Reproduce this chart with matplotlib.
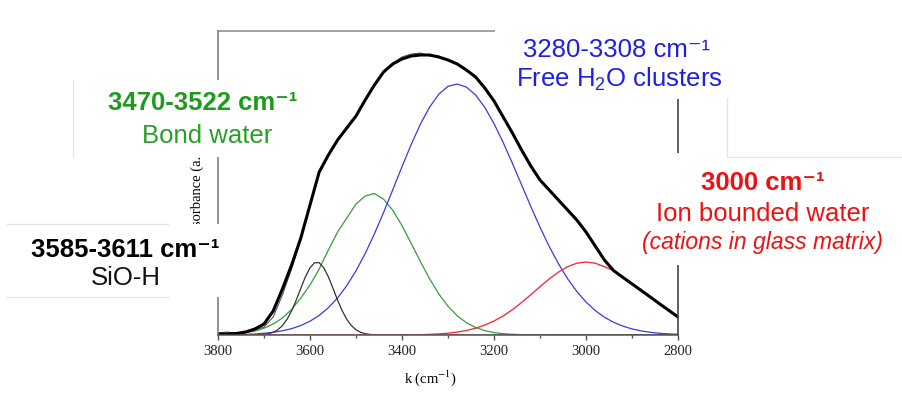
import matplotlib
matplotlib.use('Agg')
import matplotlib.pyplot as plt
from matplotlib.patches import Rectangle
from matplotlib.lines import Line2D

plt.rcParams['font.family'] = ['Liberation Serif', 'DejaVu Serif']
plt.rcParams['mathtext.fontset'] = 'custom'
plt.rcParams['mathtext.rm'] = 'Liberation Sans'
plt.rcParams['mathtext.bf'] = 'Liberation Sans:bold'
plt.rcParams['mathtext.it'] = 'Liberation Sans:italic'

# wavenumbers (cm-1), one sample every 20 cm-1
wavenumber = list(range(3800, 2799, -20))

# absorbance (a.u.)
total = [0.01, 0.01, 0.015, 0.03, 0.06, 0.11, 0.24, 0.46, 0.70, 0.97,
         1.30, 1.63, 1.80, 1.95, 2.07, 2.19, 2.35, 2.50, 2.63, 2.71,
         2.76, 2.79, 2.80, 2.80, 2.78, 2.75, 2.71, 2.65, 2.58, 2.47,
         2.34, 2.18, 2.02, 1.85, 1.69, 1.55, 1.45, 1.35, 1.25, 1.15,
         1.03, 0.89, 0.75, 0.644, 0.577, 0.511, 0.445, 0.379, 0.312, 0.246,
         0.18]
raw = [0.02, 0.03, 0.015, 0.03, 0.05, 0.08, 0.18, 0.40, 0.66, 0.95,
       1.29, 1.63, 1.81, 1.94, 2.08, 2.18, 2.36, 2.49, 2.64, 2.72,
       2.78, 2.81, 2.82, 2.79, 2.79, 2.74, 2.72, 2.64, 2.59, 2.46,
       2.35, 2.17, 2.03, 1.84, 1.70, 1.54, 1.46, 1.34, 1.26, 1.14,
       1.03, 0.89, 0.75, 0.644, 0.577, 0.511, 0.445, 0.379, 0.312, 0.246,
       0.18]
bond = [0.003, 0.006, 0.011, 0.022, 0.039, 0.068, 0.11, 0.17, 0.255, 0.37,
        0.50, 0.66, 0.85, 1.03, 1.17, 1.31, 1.39, 1.415, 1.358, 1.247,
        1.093, 0.916, 0.734, 0.562, 0.411, 0.288, 0.192, 0.123, 0.075, 0.044,
        0.024, 0.013, 0.007, 0.003, 0.002, 0.001, 0, 0, 0, 0,
        0, 0, 0, 0, 0, 0, 0, 0, 0, 0,
        0]
free = [0.001, 0.002, 0.004, 0.006, 0.010, 0.017, 0.027, 0.042, 0.063, 0.095,
        0.138, 0.196, 0.273, 0.371, 0.494, 0.642, 0.815, 1.011, 1.226, 1.453,
        1.683, 1.905, 2.108, 2.279, 2.408, 2.487, 2.510, 2.479, 2.400, 2.276,
        2.114, 1.925, 1.717, 1.501, 1.285, 1.078, 0.886, 0.714, 0.563, 0.436,
        0.330, 0.245, 0.178, 0.127, 0.089, 0.061, 0.041, 0.027, 0.017, 0.011,
        0.007]
ion = [0, 0, 0, 0, 0, 0, 0, 0, 0, 0,
       0, 0, 0, 0, 0, 0, 0, 0, 0, 0,
       0.001, 0.002, 0.003, 0.006, 0.011, 0.018, 0.029, 0.045, 0.068, 0.099,
       0.140, 0.191, 0.253, 0.325, 0.403, 0.483, 0.560, 0.629, 0.683, 0.718,
       0.730, 0.718, 0.683, 0.644, 0.577, 0.511, 0.445, 0.379, 0.312, 0.246,
       0.18]

# the narrow SiO-H band, sampled every 10 cm-1
sioh_k = [3800, 3720, 3710, 3700, 3690, 3680, 3670, 3660, 3650, 3640, 3630,
          3620, 3610, 3600, 3590, 3580, 3570, 3560, 3550, 3540, 3530,
          3520, 3510, 3500, 3490, 3480, 3470, 3460, 3450, 3440, 2800]
sioh = [0, 0.0009, 0.0024, 0.006, 0.013, 0.027, 0.052, 0.094, 0.156, 0.242, 0.348,
        0.467, 0.581, 0.672, 0.723, 0.723, 0.672, 0.581, 0.467, 0.348, 0.242,
        0.156, 0.094, 0.052, 0.027, 0.013, 0.006, 0.0024, 0.0009, 0, 0]

W, H = 902, 399
fig = plt.figure(figsize=(W / 100, H / 100), dpi=100)
ax = fig.add_axes([218 / W, 1 - 335 / H, 460 / W, 304 / H])

ax.plot(wavenumber, bond, color='#3c9a3c', lw=0.9)
ax.plot(wavenumber, free, color='#3a3ae0', lw=0.9)
ax.plot(sioh_k, sioh, color='#333333', lw=0.9)
ax.plot(wavenumber, ion, color='#ee3344', lw=1.0)
ax.plot(wavenumber, raw, color='#444444', lw=0.7)
ax.plot(wavenumber, total, color='black', lw=2.2)

ax.set_xlim(3800, 2800)
ax.set_ylim(0, 3.04)
ax.set_yticks([])
ax.set_xticks(range(3800, 2799, -200))
ax.set_xticks(range(3700, 2800, -200), minor=True)
ax.tick_params(axis='x', which='major', length=3.5, width=1, color='#555555',
               pad=4, labelsize=10.5, labelcolor='#222222')
ax.tick_params(axis='x', which='minor', length=2.5, width=1, color='#555555')
ax.spines['top'].set_color('#888888')
ax.spines['left'].set_color('#777777')
ax.spines['bottom'].set_color('#555555')
ax.spines['right'].set_color('#333333')
for s in ax.spines.values():
    s.set_linewidth(1.1)

ax.set_xlabel('k (cm$^{-1}$)', fontsize=10.5, math_fontfamily='stix')
ax.xaxis.label.set_va('center')
ax.xaxis.set_label_coords(0.461, -0.141)
ax.set_ylabel('Absorbance (a.u.)', fontsize=10.5)
ax.yaxis.label.set_va('center')
ax.yaxis.set_label_coords(-0.046, 0.47)


def white_box(x0, y0, x1, y1):
    fig.add_artist(Rectangle((x0 / W, 1 - y1 / H), (x1 - x0) / W, (y1 - y0) / H,
                             transform=fig.transFigure, facecolor='white',
                             edgecolor='none', zorder=2))


def faint(xs, ys):
    fig.add_artist(Line2D([x / W for x in xs], [1 - y / H for y in ys],
                          transform=fig.transFigure, color='#e6e6e6', lw=1, zorder=2.5))


def label(x, y, s, color, size=18.5, **kw):
    fig.text(x / W, 1 - y / H, s, color=color, fontsize=size, ha='center',
             va='baseline', family=['Liberation Sans', 'DejaVu Sans'],
             math_fontfamily='custom', zorder=4, **kw)


white_box(73, 80, 312, 157)
white_box(0, 224, 226, 297)
white_box(495, 0, 728, 99)
white_box(630, 153, 902, 265)

faint([73, 73], [80, 157])
faint([7, 168], [224, 224])
faint([7, 168], [297, 297])
faint([727, 727], [98, 157])
faint([727, 902], [157, 157])

label(203, 110, '3470-3522 cm\u207b\u00b9', '#1f9a1f', weight='bold')
label(207, 143, 'Bond water', '#27a027')
label(125, 257, '3585-3611 cm\u207b\u00b9', 'black', weight='bold')
label(126, 285, 'SiO-H', '#111111')
label(617, 57, '3280-3308 cm\u207b\u00b9', '#1f1fe6')
label(619, 87, 'Free H$_{2}$O clusters', '#1f1fe6')
label(763, 190, '3000 cm\u207b\u00b9', '#ee1111', weight='bold')
label(763, 221, 'Ion bounded water', '#ee1111')
label(763, 249, '(cations in glass matrix)', '#ee1111', size=16.5, style='italic')

fig.savefig('out.png', dpi=100)
